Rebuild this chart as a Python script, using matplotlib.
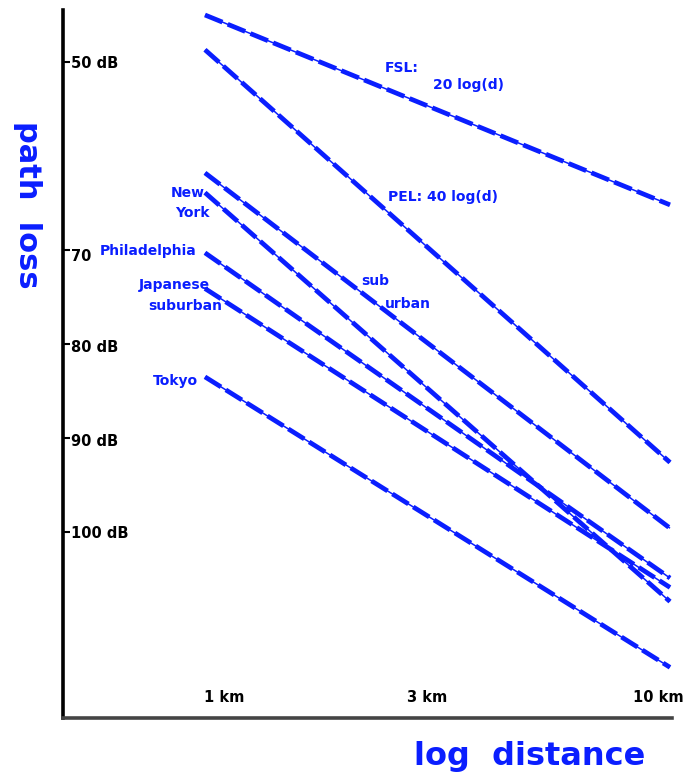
#!/usr/bin/env python3
"""Path loss versus log distance for several propagation environments."""

import matplotlib

matplotlib.use("Agg")
import matplotlib.pyplot as plt
from matplotlib.transforms import ScaledTranslation

distance_km = [1.0, 10.0]

# Path loss (dB) at 1 km and 10 km for each environment
fsl_db = [45.0, 65.2]
pel_db = [48.7, 92.6]
suburban_db = [61.8, 99.6]
new_york_db = [63.9, 107.4]
philadelphia_db = [70.3, 104.9]
japan_suburban_db = [74.1, 105.9]
tokyo_db = [83.5, 114.4]

ytick_values = [50, 70, 80, 90, 100]
ytick_labels = ["50 dB", "70", "80 dB", "90 dB", "100 dB"]
xtick_values = [1, 3, 10]
xtick_labels = ["1 km", "3 km", "10 km"]

BLUE = "#0a1eff"
W, H = 687, 777


def fig_px(x, y):
    """Pixel position -> figure fraction."""
    return x / W, 1 - y / H


def draw_sketchy(ax, x, y):
    """Thin line with thick dashes on top, like the scanned pen strokes."""
    ax.plot(x, y, color=BLUE, lw=1.1, solid_capstyle="butt", clip_on=False)
    ax.plot(x, y, color=BLUE, lw=3.4, dashes=(4, 1.2), clip_on=False)


def main():
    fig = plt.figure(figsize=(W / 100, H / 100), dpi=100)
    left, top = fig_px(63, 10)
    right, bottom = fig_px(672, 718)
    ax = fig.add_axes([left, bottom, right - left, top - bottom])

    ax.set_xscale("log")
    ax.set_xlim(0.4951, 10.1)
    ax.set_ylim(119.79, 44.47)

    for series in (fsl_db, pel_db, suburban_db, new_york_db,
                   philadelphia_db, japan_suburban_db, tokyo_db):
        draw_sketchy(ax, distance_km, series)

    # Spines
    for side in ("top", "right"):
        ax.spines[side].set_visible(False)
    ax.spines["left"].set_linewidth(2.6)
    ax.spines["left"].set_color("black")
    ax.spines["bottom"].set_linewidth(2.6)
    ax.spines["bottom"].set_color("#444444")

    # Ticks drawn inside the axes
    ax.set_xticks(xtick_values)
    ax.set_xticklabels(xtick_labels)
    ax.xaxis.set_minor_locator(matplotlib.ticker.NullLocator())
    ax.tick_params(axis="x", length=0, pad=-20)
    ax.set_yticks(ytick_values)
    ax.set_yticklabels(ytick_labels)
    ax.tick_params(axis="y", direction="in", length=5, width=1.5, pad=-6)
    for lab in ax.get_yticklabels():
        lab.set_horizontalalignment("left")
    for lab in ax.get_xticklabels() + ax.get_yticklabels():
        lab.set_fontweight("bold")
        lab.set_fontsize(10.5)
        lab.set_color("black")

    # Nudge x labels where the hand-lettered originals sit
    x_shift_px = [19, 0, -12]
    for lab, dx in zip(ax.get_xticklabels(), x_shift_px):
        lab.set_transform(lab.get_transform()
                          + ScaledTranslation(dx / 100, 0, fig.dpi_scale_trans))
    y_shift_px = [0, -5, -2, -2, 0]
    for lab, dy in zip(ax.get_yticklabels(), y_shift_px):
        lab.set_transform(lab.get_transform()
                          + ScaledTranslation(0, dy / 100, fig.dpi_scale_trans))

    # Line labels
    txt = dict(color=BLUE, fontsize=10, fontweight="bold", va="center")
    ax.text(2.43, 50.6, "FSL:", ha="left", **txt)
    ax.text(3.09, 52.4, "20 log(d)", ha="left", **txt)
    ax.text(2.47, 64.4, "PEL: 40 log(d)", ha="left", **txt)
    ax.text(2.17, 73.3, "sub", ha="left", **txt)
    ax.text(2.44, 75.7, "urban", ha="left", **txt)
    ax.text(1.0, 63.9, "New", ha="right", **txt)
    ax.text(1.025, 66.1, "York", ha="right", **txt)
    ax.text(0.961, 70.1, "Philadelphia", ha="right", **txt)
    ax.text(1.025, 73.7, "Japanese", ha="right", **txt)
    ax.text(1.088, 76.0, "suburban", ha="right", **txt)
    ax.text(0.966, 83.9, "Tokyo", ha="right", **txt)

    # Axis titles
    fx, fy = fig_px(27, 205)
    fig.text(fx, fy, "path  loss", rotation=270, ha="center", va="center",
             color=BLUE, fontsize=22, fontweight="bold")
    fx, fy = fig_px(530, 757)
    fig.text(fx, fy, "log  distance", ha="center", va="center",
             color=BLUE, fontsize=23, fontweight="bold")

    fig.savefig("out.png", dpi=100)


if __name__ == "__main__":
    main()
